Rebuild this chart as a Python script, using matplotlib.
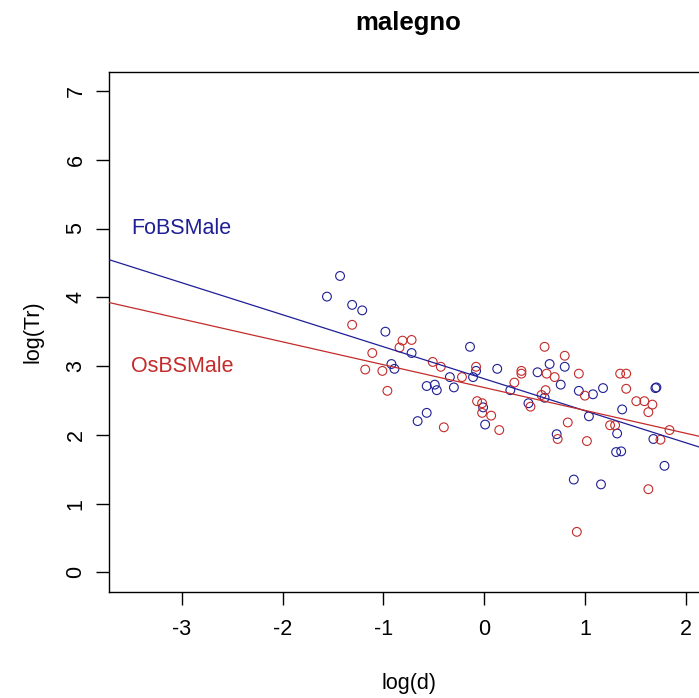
import numpy as np
import matplotlib.pyplot as plt

plt.rcParams['font.family'] = ['Liberation Sans', 'DejaVu Sans']
plt.rcParams['axes.unicode_minus'] = False

# log(d), log(Tr) for the FoBSMale group
fo_x = [-1.43, -1.56, -1.31, -1.21, -0.98, -0.72, -0.92, -0.89, -0.57, -0.57,
        -0.66, -0.14, 0.65, 0.13, 0.53, -0.34, -0.11, -0.08, -0.49, -0.47,
        -0.30, 0.26, 0.44, 0.01, -0.01, 0.80, 0.76, 1.18, 1.70, 1.71,
        0.94, 1.08, 0.60, 1.37, 1.04, 1.32, 0.72, 1.68, 1.31, 1.36,
        1.79, 0.89, 1.16]
fo_y = [4.31, 4.01, 3.89, 3.81, 3.50, 3.19, 3.03, 2.96, 2.71, 2.32,
        2.20, 3.28, 3.03, 2.96, 2.91, 2.84, 2.84, 2.93, 2.73, 2.65,
        2.69, 2.65, 2.46, 2.15, 2.40, 2.99, 2.73, 2.68, 2.68, 2.69,
        2.64, 2.59, 2.54, 2.37, 2.27, 2.02, 2.01, 1.94, 1.75, 1.76,
        1.55, 1.35, 1.28]

# log(d), log(Tr) for the OsBSMale group
os_x = [-1.31, -0.81, -0.72, -0.84, -1.11, -1.18, -1.01, -0.96, 0.60, -0.51,
        -0.43, -0.08, 0.37, 0.37, 0.62, -0.22, 0.30, 0.61, 0.57, -0.07,
        -0.02, -0.02, 0.46, 0.07, -0.40, 0.15, 0.80, 0.70, 0.94, 1.35,
        1.41, 1.41, 1.00, 1.51, 1.59, 1.67, 1.63, 0.83, 1.25, 1.30,
        1.84, 0.73, 1.75, 1.02, 1.63, 0.92]
os_y = [3.60, 3.37, 3.38, 3.27, 3.19, 2.95, 2.93, 2.64, 3.28, 3.06,
        2.99, 2.99, 2.93, 2.89, 2.89, 2.84, 2.76, 2.65, 2.58, 2.49,
        2.46, 2.32, 2.41, 2.28, 2.11, 2.07, 3.15, 2.84, 2.89, 2.89,
        2.89, 2.67, 2.57, 2.49, 2.49, 2.44, 2.33, 2.18, 2.14, 2.14,
        2.07, 1.94, 1.93, 1.91, 1.21, 0.59]

# fitted lines: intercept, slope
fo_fit = (2.816, -0.465)
os_fit = (2.688, -0.332)

blue = '#1f1f96'
red = '#c42b2b'

fig = plt.figure(figsize=(6.99, 6.98), dpi=100)
ax = fig.add_axes([0.1564, 0.1523, 0.8562, 0.745])

ax.scatter(fo_x, fo_y, s=40, facecolors='none', edgecolors=blue, linewidths=0.8, zorder=2)
ax.scatter(os_x, os_y, s=40, facecolors='none', edgecolors=red, linewidths=0.8, zorder=2)
ax.axline((0, fo_fit[0]), slope=fo_fit[1], color=blue, lw=0.9, zorder=3)
ax.axline((0, os_fit[0]), slope=os_fit[1], color=red, lw=0.9, zorder=3)

ax.text(-3.5, 5, 'FoBSMale', color=blue, fontsize=15.5, ha='left', va='center')
ax.text(-3.5, 3, 'OsBSMale', color=red, fontsize=15.5, ha='left', va='center')

ax.set_xlim(-3.72, 2.22)
ax.set_ylim(-0.28, 7.28)
ax.set_xticks(range(-3, 3))
ax.set_yticks(range(0, 8))
ax.tick_params(axis='both', labelsize=15.5, length=9.1, width=1.0, direction='out')
ax.tick_params(axis='x', pad=10.5)
ax.tick_params(axis='y', pad=7.4, labelrotation=90)
for lab in ax.get_yticklabels():
    lab.set_va('center')

for sp in ax.spines.values():
    sp.set_linewidth(1.0)

ax.set_title('malegno', fontsize=18.5, fontweight='bold', pad=30)
ax.set_xlabel('log(d)', fontsize=15.5)
ax.set_ylabel('log(Tr)', fontsize=15.5)
ax.xaxis.set_label_coords(0.5, -0.1775)
ax.xaxis.label.set_va('center')
ax.yaxis.set_label_coords(-0.1275, 0.5)
ax.yaxis.label.set_va('center')

fig.savefig('out.png', dpi=100)
